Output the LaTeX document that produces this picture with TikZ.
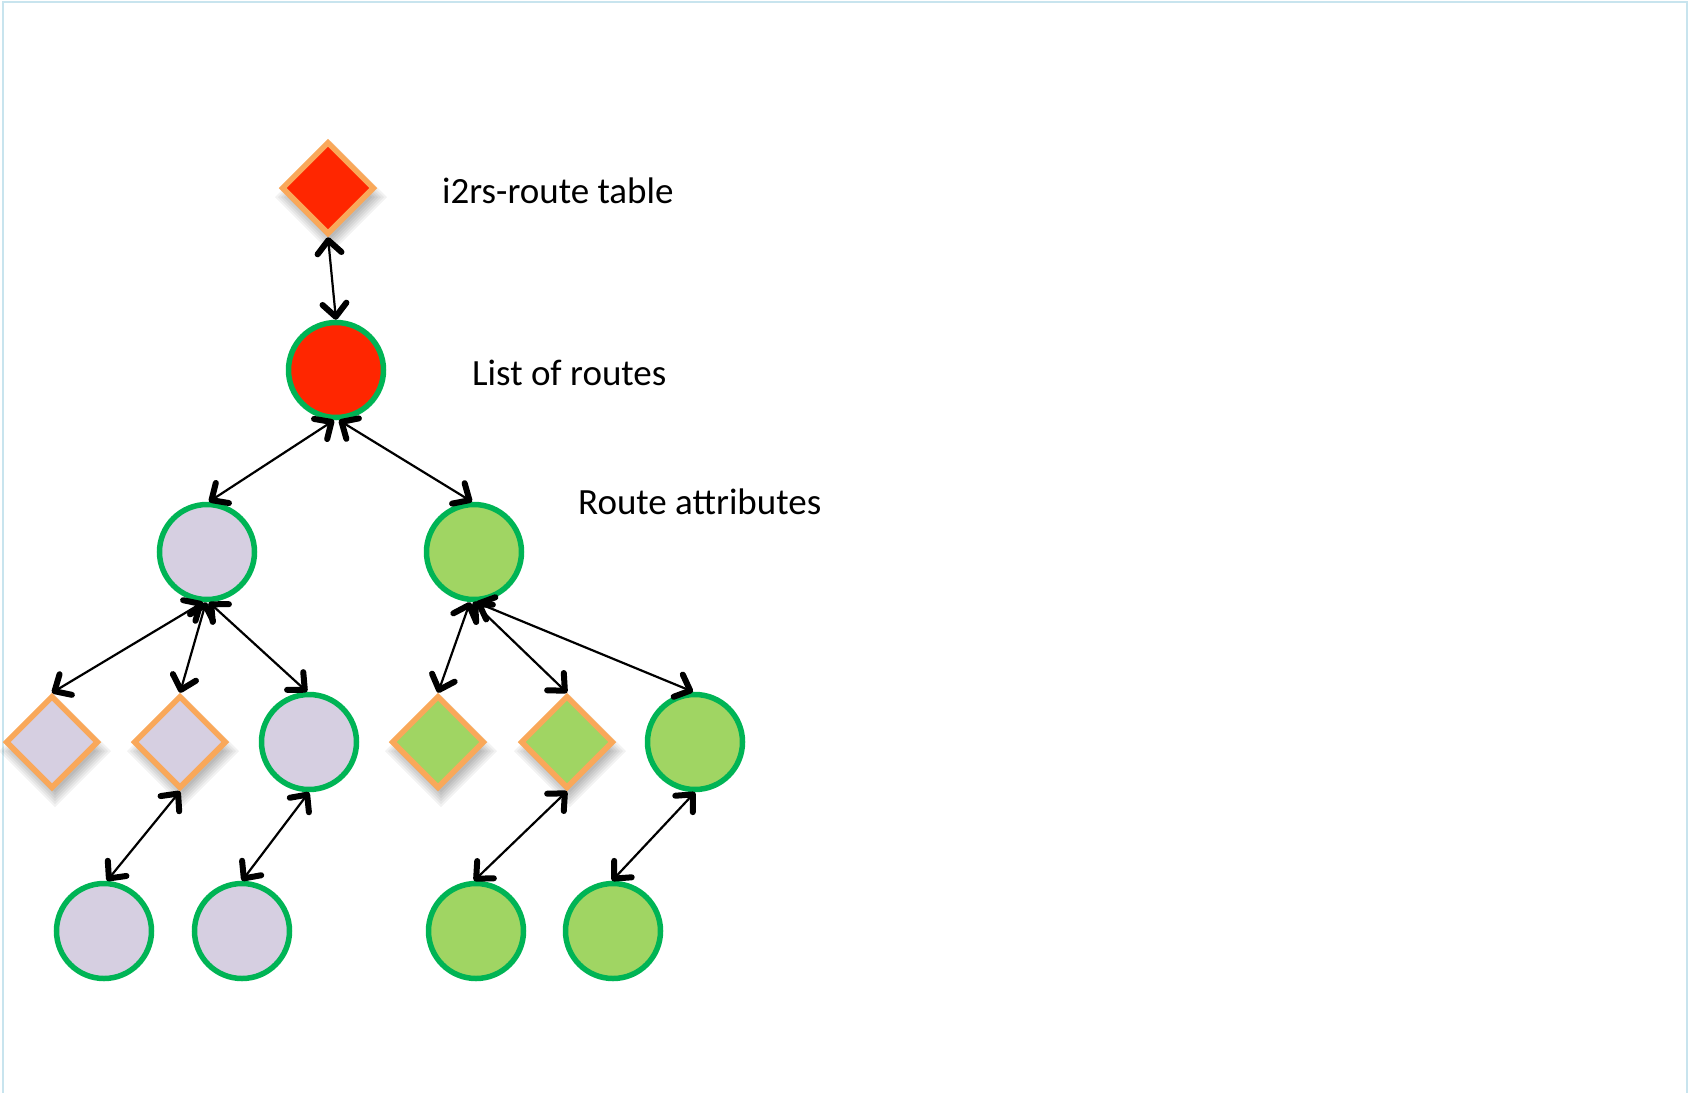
\documentclass[tikz,border=0pt]{standalone}
\usepackage{fontspec}
\setmainfont{Carlito}
\usetikzlibrary{shapes.geometric,arrows.meta}
\definecolor{rred}{RGB}{255,38,0}
\definecolor{rorange}{RGB}{249,168,90}
\definecolor{rgreen}{RGB}{0,180,85}
\definecolor{rlilac}{RGB}{214,207,225}
\definecolor{rlgreen}{RGB}{160,213,99}
\definecolor{rborder}{RGB}{200,228,238}
\tikzset{
  dnode/.style={diamond, aspect=1, inner sep=0pt, minimum width=93pt, minimum height=93pt, draw=rorange, line width=5.5pt, line join=miter},
  cnode/.style={circle, inner sep=0pt, minimum size=95pt, draw=rgreen, line width=5.5pt},
  lbl/.style={anchor=base west, inner sep=0pt, font=\fontsize{37}{44}\selectfont},
  link/.style={line width=2.2pt, draw=black, {Straight Barb[length=13pt,width=24pt,line width=6pt,round]}-{Straight Barb[length=13pt,width=24pt,line width=6pt,round]}},
}
\newcommand{\dshadow}[2]{%
  \foreach \s in {56,53,50,47,44,41}{
    \fill[black, fill opacity=0.05] (#1+3,#2+9-\s) -- (#1+3+\s,#2+9) -- (#1+3,#2+9+\s) -- (#1+3-\s,#2+9) -- cycle;
  }%
}
\begin{document}
\begin{tikzpicture}[x=1pt,y=-1pt]
\useasboundingbox (0,0) rectangle (1688,1093);
\draw[rborder, line width=2.5pt] (3,1093) -- (3,2) -- (1687,2) -- (1687,1093);

% shadows
\dshadow{328}{188}
\dshadow{52}{742}
\dshadow{180}{742}
\dshadow{438}{742}
\dshadow{567}{742}

% nodes
\node[dnode, fill=rred] (tbl) at (328,188) {};
\node[cnode, fill=rred] (lst) at (336,370) {};
\node[cnode, fill=rlilac] (ra) at (207,552) {};
\node[cnode, fill=rlgreen] (rb) at (474,552) {};
\node[dnode, fill=rlilac] (a1) at (52,742) {};
\node[dnode, fill=rlilac] (a2) at (180,742) {};
\node[cnode, fill=rlilac] (a3) at (309,742) {};
\node[dnode, fill=rlgreen] (b1) at (438,742) {};
\node[dnode, fill=rlgreen] (b2) at (567,742) {};
\node[cnode, fill=rlgreen] (b3) at (695,742) {};
\node[cnode, fill=rlilac] (c1) at (104,931) {};
\node[cnode, fill=rlilac] (c2) at (242,931) {};
\node[cnode, fill=rlgreen] (c3) at (476,931) {};
\node[cnode, fill=rlgreen] (c4) at (613,931) {};

% labels
\node[lbl] (t1) at (442,203) {i2rs-route table};
\node[lbl] (t2) at (472,385) {List of routes};
\node[lbl] (t3) at (578,514) {Route attributes};

% connectors
\draw[link] (tbl.south) -- (lst.north);
\draw[link] ([xshift=-2pt]lst.south) -- ([xshift=2pt]ra.north);
\draw[link] ([xshift=3pt]lst.south) -- ([xshift=-2pt]rb.north);
\draw[link] ([xshift=-4pt]ra.south) -- (a1.north);
\draw[link] ([xshift=-1pt]ra.south) -- (a2.north);
\draw[link] ([xshift=2pt]ra.south) -- ([xshift=-2pt]a3.north);
\draw[link] ([xshift=-4pt]rb.south) -- (b1.north);
\draw[link] ([xshift=-1pt]rb.south) -- (b2.north);
\draw[link] ([xshift=2pt]rb.south) -- ([xshift=-2pt]b3.north);
\draw[link] (a2.south) -- ([xshift=3pt]c1.north);
\draw[link] (a3.south) -- (c2.north);
\draw[link] (b2.south) -- ([xshift=-2pt]c3.north);
\draw[link] (b3.south) -- ([xshift=-1pt]c4.north);
\end{tikzpicture}
\end{document}
